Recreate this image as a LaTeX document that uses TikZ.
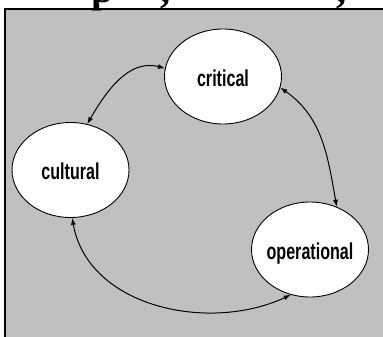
\documentclass[tikz,border=0pt]{standalone}
\usepackage{fontspec}
\usepackage{tikz}
\usetikzlibrary{shapes.geometric, arrows.meta}
\newfontfamily\labelfont{Liberation Sans}[FakeStretch=0.70]
\newfontfamily\headfont{Liberation Serif}
\definecolor{panelgray}{RGB}{192,192,192}
\tikzstyle{ovalbox} = [ellipse, draw, fill=white,
line width = 0.9pt,
minimum width = 117pt, minimum height = 95pt,
inner sep = 0pt, inner xsep = -5pt,
text height = 19.5pt, text depth = 0pt,
font = \labelfont\bfseries\fontsize{23}{25}\selectfont]
\tikzstyle{headtext} = [anchor = base west, inner sep = 0pt,
font = \headfont\bfseries\fontsize{40}{40}\selectfont]
\tikzstyle{linkarrow} = [{Latex[length=7pt, width=5pt]}-{Latex[length=7pt, width=5pt]},
line width = 1pt]

\begin{document}
\begin{tikzpicture}[x=1pt, y=1pt]
	\useasboundingbox (0,0) rectangle (383,-337);
	\draw[fill=panelgray, line width=1.5pt] (5,-9) rectangle (395,-350);
	%% cut-off heading above the panel
	\node[headtext](headP) at (91,-3) {p};
	\node[headtext](headA) at (160,-3) {,};
	\node[headtext](headB) at (336,-3) {,};
	\coordinate (a) at (223, -76.5);
	\coordinate (b) at (70.5, -170);
	\coordinate (c) at (310, -249.5);
	\node[ovalbox](crit) at (a) {critical};
	\node[ovalbox](cult) at (b) {cultural};
	\node[ovalbox](oper) at (c) {operational};
	%% critical to its neighbours
	\draw[linkarrow] (crit.172) to[out=165, in=60] (cult.70);
	\draw[linkarrow] (crit.-11) to[out=-35, in=100] (oper.58);
	%% cultural to operational
	\draw[linkarrow] (cult.-88) to[out=-80, in=205] (oper.-113);
\end{tikzpicture}
\end{document}
